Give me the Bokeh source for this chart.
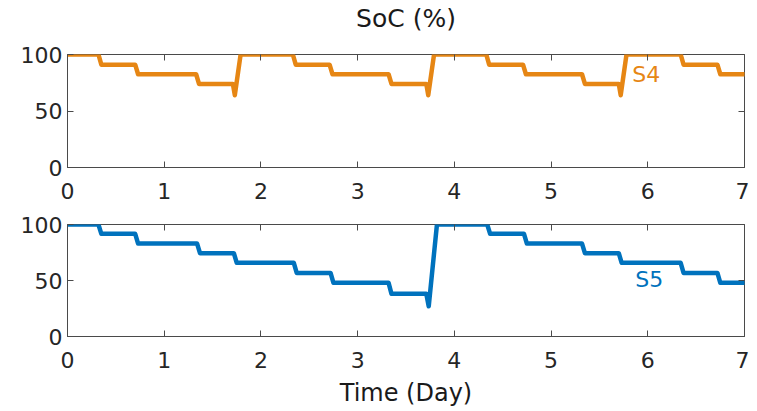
from bokeh.plotting import figure
from bokeh.layouts import column
from bokeh.models import Range1d, FixedTicker, LinearAxis, ColumnDataSource
from bokeh.core.properties import value
from bokeh.embed import file_html
from bokeh.resources import INLINE

# ---- data ----
x_ticks = [0, 1, 2, 3, 4, 5, 6, 7]
y_ticks = [0, 50, 100]

s4_time = [0, 0.32, 0.35, 0.70, 0.73, 1.33, 1.36, 1.71, 1.73, 1.79,
           2.33, 2.36, 2.71, 2.74, 3.32, 3.35, 3.71, 3.73, 3.79,
           4.33, 4.36, 4.71, 4.74, 5.32, 5.35, 5.70, 5.72, 5.78,
           6.34, 6.37, 6.72, 6.75, 7.0]
s4_soc = [100, 100, 91, 91, 82.5, 82.5, 74, 74, 64, 100,
          100, 91, 91, 82.5, 82.5, 74, 74, 64, 100,
          100, 91, 91, 82.5, 82.5, 74, 74, 64, 100,
          100, 91, 91, 82.5, 82.5]

s5_time = [0, 0.32, 0.35, 0.70, 0.73, 1.34, 1.37, 1.72, 1.75, 2.34, 2.37,
           2.72, 2.75, 3.32, 3.35, 3.71, 3.735, 3.82,
           4.34, 4.37, 4.72, 4.75, 5.32, 5.35, 5.70, 5.73, 6.34, 6.37,
           6.72, 6.75, 7.0]
s5_soc = [100, 100, 91.7, 91.7, 83, 83, 74.4, 74.4, 65.8, 65.8, 56.8,
          56.8, 47.9, 47.9, 38.1, 38.1, 27, 100,
          100, 91.7, 91.7, 83, 83, 74.4, 74.4, 65.8, 65.8, 56.8,
          56.8, 47.9, 47.9]

series_names = ["S4", "S5"]

# ---- styling ----
FONT = "DejaVu Sans"
AX_COL = "#262626"
FRAME_COL = "#4a4a4a"
ORANGE = "#E68614"
BLUE = "#0072BD"


def make_fig(frame_h, top, bottom):
    p = figure(frame_width=677, frame_height=frame_h,
               min_border_left=67, min_border_right=5,
               min_border_top=top, min_border_bottom=bottom,
               x_range=Range1d(0, 7), y_range=Range1d(0, 100),
               output_backend="svg", toolbar_location=None,
               background_fill_color="white", border_fill_color="white")
    p.grid.visible = False
    p.outline_line_color = FRAME_COL
    p.outline_line_width = 1
    p.outline_line_alpha = 1
    bottom_ax = p.below[0]
    left_ax = p.left[0]
    bottom_ax.ticker = FixedTicker(ticks=x_ticks)
    left_ax.ticker = FixedTicker(ticks=y_ticks)
    for ax in (bottom_ax, left_ax):
        ax.axis_line_color = FRAME_COL
        ax.major_tick_in = 6
        ax.major_tick_out = 0
        ax.major_tick_line_color = FRAME_COL
        ax.minor_tick_line_color = None
        ax.major_label_text_font = FONT
        ax.major_label_text_font_size = "22px"
        ax.major_label_text_color = AX_COL
    bottom_ax.major_label_standoff = 15
    left_ax.major_label_standoff = 5
    # mirrored ticks (MATLAB box)
    top_ax = LinearAxis(ticker=FixedTicker(ticks=x_ticks))
    right_ax = LinearAxis(ticker=FixedTicker(ticks=y_ticks))
    for ax in (top_ax, right_ax):
        ax.axis_line_color = None
        ax.major_tick_in = 6
        ax.major_tick_out = 0
        ax.major_tick_line_color = FRAME_COL
        ax.minor_tick_line_color = None
        ax.major_label_text_font_size = "0px"
        ax.major_label_standoff = 0
        ax.major_label_overrides = {t: "" for t in ax.ticker.ticks}
    p.add_layout(top_ax, "above")
    p.add_layout(right_ax, "right")
    return p, bottom_ax


# top panel
p1, p1_bottom = make_fig(113, 0, 38)
p1.title.text = "SoC (%)"
p1.title.align = "center"
p1.title.vertical_align = "top"
p1.title.text_font = FONT
p1.title.text_font_size = "25px"
p1.title.text_font_style = "normal"
p1.title.text_color = "#1a1a1a"
p1.title.standoff = 7
p1.title.padding = (0, 0, 0, 16)
src4 = ColumnDataSource(dict(t=s4_time, soc=s4_soc))
p1.line("t", "soc", source=src4, line_color=ORANGE, line_width=4.5,
        line_join="round", line_cap="round")
p1.text(x=[5.84], y=[82], text=[series_names[0]], text_color=ORANGE,
        text_font=value(FONT), text_font_size="22px",
        text_baseline="middle", text_align="left")

# bottom panel
p2, p2_bottom = make_fig(112, 19, 66)
src5 = ColumnDataSource(dict(t=s5_time, soc=s5_soc))
p2.line("t", "soc", source=src5, line_color=BLUE, line_width=4.5,
        line_join="round", line_cap="round")
p2.text(x=[5.87], y=[51], text=[series_names[1]], text_color=BLUE,
        text_font=value(FONT), text_font_size="22px",
        text_baseline="middle", text_align="left")
p2_bottom.axis_label = "Time (Day)"
p2_bottom.axis_label_text_font = FONT
p2_bottom.axis_label_text_font_size = "24px"
p2_bottom.axis_label_text_font_style = "normal"
p2_bottom.axis_label_text_color = "#1a1a1a"
p2_bottom.axis_label_standoff = 8

layout = column(p1, p2, spacing=0)
open("out.html", "w").write(file_html(layout, INLINE))
